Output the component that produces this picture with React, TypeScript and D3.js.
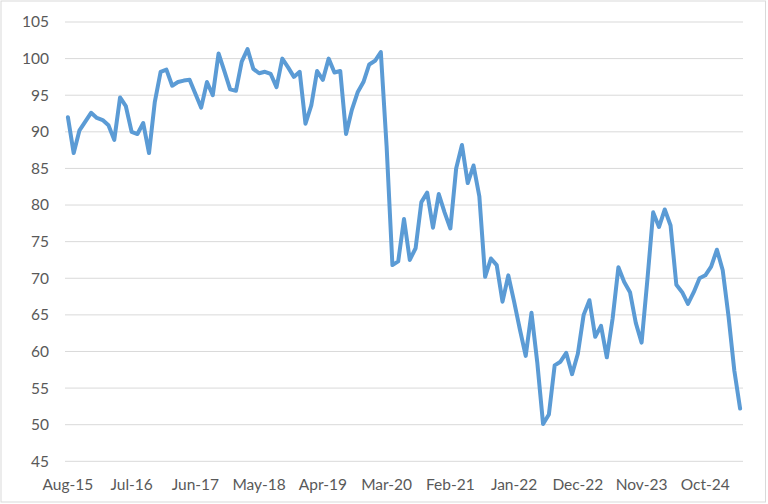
import React, { useEffect } from "react";
import * as d3 from "d3";

const startMonth = new Date(2015, 7, 1); // Aug-15
const values: number[] = [
  92.0, 87.1, 90.2, 91.4, 92.6, 91.9, 91.6, 90.9, 88.9, 94.7,
  93.5, 90.0, 89.7, 91.2, 87.1, 94.1, 98.2, 98.5, 96.3, 96.8,
  97.0, 97.1, 95.2, 93.3, 96.8, 95.0, 100.7, 98.3, 95.8, 95.6,
  99.6, 101.3, 98.6, 98.0, 98.2, 97.9, 96.1, 100.0, 98.8, 97.5,
  98.2, 91.1, 93.6, 98.3, 97.1, 100.0, 98.1, 98.3, 89.7, 93.0,
  95.4, 96.8, 99.2, 99.7, 100.9, 88.0, 71.8, 72.3, 78.1, 72.5,
  74.1, 80.4, 81.7, 76.9, 81.5, 79.0, 76.8, 85.0, 88.2, 83.0,
  85.4, 81.2, 70.2, 72.7, 71.8, 66.8, 70.4, 66.8, 63.0, 59.4,
  65.3, 58.5, 50.1, 51.4, 58.1, 58.6, 59.8, 56.9, 59.7, 65.0,
  67.0, 62.0, 63.5, 59.2, 64.5, 71.5, 69.5, 68.1, 63.9, 61.2,
  69.8, 79.0, 77.0, 79.4, 77.2, 69.1, 68.1, 66.5, 68.1, 70.0,
  70.4, 71.6, 73.9, 71.1, 64.8, 57.4, 52.2,
];
const categories: Date[] = values.map((_, i) => d3.timeMonth.offset(startMonth, i));
const yTicks: number[] = [45, 50, 55, 60, 65, 70, 75, 80, 85, 90, 95, 100, 105];
const tickEvery = 11;

const W = 768;
const H = 504;
const plot = { left: 65, right: 743, top: 22, bottom: 461.3 };
const FONT = "Lato, 'Open Sans', sans-serif";

export default function App() {
  useEffect(() => {
    document.body.style.margin = "0";
  }, []);

  const x = d3
    .scalePoint<number>()
    .domain(values.map((_, i) => i))
    .range([plot.left, plot.right])
    .padding(0.5);
  const y = d3.scaleLinear().domain([45, 105]).range([plot.bottom, plot.top]);
  const fmt = d3.timeFormat("%b-%y");

  const line = d3
    .line<number>()
    .x((_, i) => x(i) as number)
    .y((d) => y(d));

  const tickIdx = values.map((_, i) => i).filter((i) => i % tickEvery === 0);

  return (
    <svg width={W} height={H} style={{ display: "block" }}>
      <rect x={0} y={0} width={W} height={H} fill="#ffffff" />
      <rect x={1} y={1} width={764.5} height={501} fill="none" stroke="#D9D9D9" strokeWidth={1} />
      {yTicks.map((t) => (
        <g key={t}>
          <line x1={plot.left} x2={plot.right} y1={y(t)} y2={y(t)} stroke="#D9D9D9" strokeWidth={1} />
          <text
            x={49}
            y={y(t)}
            dy="0.35em"
            textAnchor="end"
            fontFamily={FONT}
            fontSize={15.5}
            fill="#595959"
          >
            {t}
          </text>
        </g>
      ))}
      {tickIdx.map((i) => (
        <text
          key={i}
          x={x(i) as number}
          y={489.5}
          textAnchor="middle"
          fontFamily={FONT}
          fontSize={15.5}
          fill="#595959"
        >
          {fmt(categories[i])}
        </text>
      ))}
      <path
        d={line(values) || ""}
        fill="none"
        stroke="#5B9BD5"
        strokeWidth={4}
        strokeLinejoin="round"
        strokeLinecap="round"
      />
    </svg>
  );
}
